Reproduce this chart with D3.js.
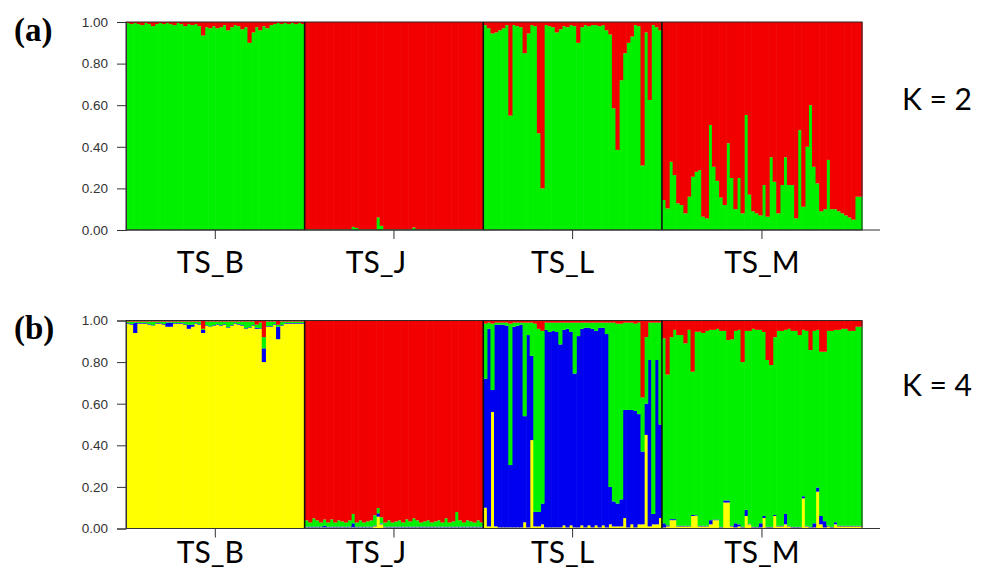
<!DOCTYPE html>
<html>
<head>
<meta charset="utf-8">
<script src="https://cdn.jsdelivr.net/npm/d3@7"></script>
<style>
  html, body { margin: 0; padding: 0; background: #fff; }
  svg { display: block; }
</style>
</head>
<body>
<svg id="chart" width="988" height="572"></svg>
<script>
// ---------------- DATA ----------------
const groups = ["TS_B", "TS_J", "TS_L", "TS_M"];
const groupSizes = [50, 50, 50, 56];
const yTicks = [0, 0.2, 0.4, 0.6, 0.8, 1.0];
const panelLabels = ["(a)", "(b)"];
const kLabels = ["K = 2", "K = 4"];

// K = 2 : proportion of the green cluster (red = remainder)
const k2Green_B = [0.995,0.99,0.995,0.99,0.985,0.995,0.99,0.98,0.99,0.995,
  0.99,0.995,0.99,0.985,0.995,0.99,0.98,0.99,0.985,0.99,
  0.98,0.935,0.975,0.97,0.98,0.97,0.975,0.985,0.96,0.975,
  0.985,0.98,0.965,0.975,0.90,0.95,0.975,0.96,0.98,0.97,
  0.985,0.99,0.995,0.99,0.995,0.99,0.995,0.99,0.995,0.99];
const k2Green_J = [0.003,0.003,0.003,0.003,0.003,0.003,0.003,0.003,0.003,0.003,
  0.003,0.003,0.003,0.015,0.01,0.003,0.003,0.003,0.003,0.003,
  0.06,0.02,0.003,0.003,0.003,0.003,0.003,0.003,0.003,0.003,
  0.012,0.003,0.003,0.003,0.003,0.003,0.003,0.003,0.003,0.003,
  0.003,0.003,0.003,0.003,0.003,0.003,0.003,0.003,0.003,0.003];
const k2Green_L = [0.985,0.97,0.945,0.95,0.96,0.97,0.985,0.55,0.985,0.98,
  0.975,0.85,0.945,0.985,0.98,0.465,0.20,0.985,0.98,0.975,
  0.95,0.965,0.98,0.975,0.985,0.98,0.90,0.975,0.985,0.98,
  0.985,0.985,0.98,0.985,0.96,0.94,0.585,0.385,0.72,0.85,
  0.90,0.93,0.985,0.98,0.31,0.95,0.625,0.985,0.975,0.96];
const k2Green_M = [0.144,0.104,0.328,0.264,0.128,0.12,0.08,0.16,0.256,0.28,
  0.288,0.064,0.056,0.505,0.304,0.236,0.156,0.12,0.417,0.25,
  0.10,0.25,0.08,0.553,0.17,0.09,0.08,0.07,0.216,0.064,
  0.35,0.232,0.08,0.216,0.35,0.216,0.216,0.056,0.48,0.112,
  0.40,0.60,0.304,0.224,0.09,0.10,0.337,0.10,0.10,0.09,
  0.08,0.07,0.06,0.05,0.16,0.16];

// K = 4 : yellow, blue, red proportions (green = remainder)
const k4Yellow_B = [0.985,0.98,0.94,0.985,0.985,0.985,0.98,0.975,0.985,0.985,
  0.98,0.97,0.97,0.985,0.985,0.985,0.98,0.96,0.97,0.985,
  0.98,0.94,0.975,0.97,0.975,0.98,0.975,0.98,0.965,0.975,
  0.985,0.98,0.975,0.96,0.965,0.975,0.96,0.96,0.80,0.97,
  0.97,0.98,0.91,0.975,0.985,0.985,0.985,0.985,0.985,0.985];
const k4Blue_B = [0.003,0.003,0.05,0.003,0.003,0.003,0.003,0.002,0.003,0.003,
  0.003,0.02,0.02,0.003,0.003,0.003,0.003,0.02,0.01,0.003,
  0.003,0.015,0.003,0.002,0.003,0.003,0.003,0.003,0.003,0.003,
  0.003,0.003,0.003,0.003,0.003,0.003,0.005,0.003,0.066,0.003,
  0.003,0.003,0.06,0.003,0.003,0.003,0.003,0.003,0.003,0.003];
const k4Red_B = [0.005,0.005,0.005,0.005,0.005,0.005,0.005,0.005,0.005,0.005,
  0.005,0.005,0.005,0.005,0.005,0.005,0.005,0.005,0.005,0.005,
  0.005,0.04,0.005,0.005,0.005,0.005,0.005,0.005,0.005,0.005,
  0.005,0.005,0.005,0.005,0.005,0.005,0.02,0.01,0.08,0.005,
  0.005,0.005,0.02,0.005,0.005,0.005,0.005,0.005,0.005,0.005];

const k4Yellow_J = [0.005,0.005,0.005,0.005,0.005,0.005,0.005,0.005,0.005,0.005,
  0.005,0.005,0.005,0.005,0.005,0.005,0.005,0.005,0.005,0.01,
  0.057,0.02,0.005,0.005,0.005,0.005,0.005,0.005,0.005,0.005,
  0.005,0.005,0.005,0.005,0.005,0.005,0.005,0.005,0.005,0.005,
  0.005,0.005,0.005,0.005,0.005,0.005,0.005,0.005,0.005,0.005];
const k4Blue_J = [0.004,0.004,0.004,0.004,0.004,0.008,0.004,0.004,0.004,0.004,
  0.004,0.004,0.004,0.02,0.004,0.004,0.004,0.004,0.004,0.004,
  0.016,0.004,0.004,0.004,0.004,0.004,0.004,0.004,0.004,0.004,
  0.004,0.004,0.004,0.004,0.004,0.004,0.004,0.004,0.004,0.004,
  0.004,0.004,0.004,0.004,0.004,0.004,0.004,0.004,0.004,0.004];
const k4Red_J = [0.961,0.971,0.951,0.961,0.971,0.957,0.971,0.956,0.971,0.961,
  0.966,0.971,0.961,0.930,0.971,0.961,0.971,0.966,0.961,0.936,
  0.902,0.946,0.971,0.961,0.971,0.966,0.961,0.971,0.956,0.966,
  0.951,0.961,0.971,0.966,0.961,0.971,0.966,0.961,0.971,0.951,
  0.971,0.966,0.921,0.961,0.971,0.961,0.966,0.971,0.961,0.971];

const k4Yellow_L = [0.10,0.01,0.56,0.01,0.005,0.005,0.005,0.005,0.005,0.005,
  0.005,0.03,0.005,0.425,0.01,0.01,0.02,0.005,0.005,0.005,
  0.005,0.005,0.015,0.005,0.015,0.005,0.005,0.015,0.005,0.015,
  0.005,0.015,0.005,0.015,0.005,0.02,0.01,0.01,0.01,0.05,
  0.005,0.02,0.005,0.02,0.02,0.45,0.01,0.02,0.02,0.05];
const k4Blue_L = [0.62,0.95,0.106,0.97,0.975,0.975,0.97,0.30,0.965,0.97,
  0.975,0.51,0.925,0.405,0.07,0.07,0.10,0.95,0.94,0.945,
  0.94,0.88,0.94,0.955,0.93,0.74,0.92,0.945,0.96,0.95,
  0.955,0.935,0.96,0.95,0.93,0.18,0.12,0.11,0.13,0.52,
  0.565,0.55,0.56,0.53,0.35,0.15,0.80,0.05,0.79,0.45];
const k4Red_L = [0.015,0.01,0.015,0.01,0.01,0.01,0.01,0.015,0.01,0.01,
  0.01,0.01,0.01,0.01,0.015,0.04,0.05,0.01,0.01,0.01,
  0.01,0.01,0.01,0.01,0.01,0.01,0.01,0.01,0.01,0.01,
  0.01,0.01,0.01,0.01,0.01,0.01,0.01,0.015,0.015,0.01,
  0.01,0.01,0.015,0.01,0.37,0.08,0.01,0.01,0.01,0.01];

const k4Yellow_M = [0.005,0.01,0.04,0.04,0.01,0.01,0.01,0.01,0.06,0.06,
  0.01,0.01,0.01,0.02,0.04,0.04,0.005,0.125,0.125,0.01,
  0.005,0.01,0.005,0.06,0.02,0.005,0.005,0.005,0.05,0.005,
  0.005,0.06,0.01,0.01,0.02,0.01,0.005,0.005,0.005,0.145,
  0.01,0.005,0.005,0.177,0.02,0.005,0.01,0.005,0.02,0.01,
  0.01,0.01,0.01,0.01,0.01,0.01];
const k4Blue_M = [0.02,0.005,0.005,0.005,0.003,0.003,0.003,0.003,0.005,0.003,
  0.003,0.003,0.003,0.02,0.003,0.003,0.003,0.01,0.01,0.003,
  0.02,0.01,0.003,0.03,0.003,0.003,0.003,0.02,0.01,0.003,
  0.003,0.005,0.003,0.003,0.05,0.003,0.003,0.003,0.003,0.01,
  0.003,0.003,0.02,0.02,0.04,0.03,0.003,0.003,0.01,0.003,
  0.003,0.003,0.003,0.003,0.003,0.003];
const k4Red_M = [0.086,0.26,0.08,0.045,0.07,0.07,0.11,0.045,0.246,0.054,
  0.054,0.06,0.05,0.045,0.045,0.04,0.05,0.05,0.094,0.09,
  0.05,0.045,0.20,0.05,0.05,0.04,0.045,0.045,0.055,0.19,
  0.214,0.08,0.05,0.05,0.045,0.04,0.05,0.05,0.07,0.045,
  0.05,0.142,0.05,0.045,0.15,0.15,0.05,0.05,0.045,0.045,
  0.04,0.04,0.05,0.05,0.03,0.03];

// ---------------- BUILD ROWS ----------------
const k2Green = [].concat(k2Green_B, k2Green_J, k2Green_L, k2Green_M);
const k4Yellow = [].concat(k4Yellow_B, k4Yellow_J, k4Yellow_L, k4Yellow_M);
const k4Blue = [].concat(k4Blue_B, k4Blue_J, k4Blue_L, k4Blue_M);
const k4Red = [].concat(k4Red_B, k4Red_J, k4Red_L, k4Red_M);
const N = k2Green.length;

const rowsK2 = k2Green.map((g, i) => ({ i, green: g, red: Math.max(0, 1 - g) }));
const rowsK4 = k4Yellow.map((yv, i) => ({
  i, yellow: yv, blue: k4Blue[i],
  green: Math.max(0, 1 - yv - k4Blue[i] - k4Red[i]), red: k4Red[i]
}));

const colors = { green: "#00f000", red: "#f20000", yellow: "#ffff00", blue: "#0000f0" };

// ---------------- LAYOUT ----------------
const svg = d3.select("#chart");
const x = d3.scaleLinear().domain([0, N]).range([126, 862]);
const axisEnd = 880;
const labelNudge = [-5, -18, -10, 0];   // horizontal shift of category labels (px)

const panels = [
  { rows: rowsK2, keys: ["green", "red"], top: 22, bottom: 230, labelY: 41, kY: 110, catY: 273 },
  { rows: rowsK4, keys: ["yellow", "blue", "green", "red"], top: 320.5, bottom: 528.5, labelY: 339, kY: 396, catY: 563 }
];

// group boundaries / centres
const bounds = [0];
groupSizes.forEach(s => bounds.push(bounds[bounds.length - 1] + s));
const centers = groups.map((g, gi) => (bounds[gi] + bounds[gi + 1]) / 2);

panels.forEach((p, pi) => {
  const y = d3.scaleLinear().domain([0, 1]).range([p.bottom, p.top]);
  const g = svg.append("g");

  const series = d3.stack().keys(p.keys)(p.rows);
  const bw = x(1) - x(0);
  g.selectAll("g.layer").data(series).join("g")
    .attr("fill", d => colors[d.key])
    .selectAll("rect").data(d => d).join("rect")
      .attr("x", d => x(d.data.i))
      .attr("width", bw + 0.6)
      .attr("y", d => y(Math.min(1, d[1])))
      .attr("height", d => Math.max(0, y(d[0]) - y(Math.min(1, d[1]))));

  // frame around plot
  g.append("rect")
    .attr("x", x(0)).attr("y", p.top)
    .attr("width", x(N) - x(0)).attr("height", p.bottom - p.top)
    .attr("fill", "none").attr("stroke", "#2a2a2a").attr("stroke-width", 1);

  // group separators
  g.selectAll("line.sep").data(bounds.slice(1, -1)).join("line")
    .attr("x1", d => x(d)).attr("x2", d => x(d))
    .attr("y1", p.top).attr("y2", p.bottom)
    .attr("stroke", "#111").attr("stroke-width", 1.6);

  // y axis
  const yAxis = g.append("g").attr("transform", `translate(${x(0)},0)`)
    .call(d3.axisLeft(y).tickValues(yTicks).tickFormat(d3.format(".2f")).tickSize(9).tickPadding(9));
  yAxis.select(".domain").attr("stroke", "#333");
  yAxis.selectAll(".tick line").attr("stroke", "#333");
  yAxis.selectAll(".tick text").attr("fill", "#333")
    .style("font-family", "'Liberation Sans', Arial, sans-serif").style("font-size", "13.5px");

  // x axis line + ticks
  g.append("line").attr("x1", x(0)).attr("x2", axisEnd)
    .attr("y1", p.bottom).attr("y2", p.bottom).attr("stroke", "#333").attr("stroke-width", 1);
  g.selectAll("line.xt").data(centers).join("line")
    .attr("x1", d => x(d)).attr("x2", d => x(d))
    .attr("y1", p.bottom).attr("y2", p.bottom + 9)
    .attr("stroke", "#333").attr("stroke-width", 1);

  // category labels
  g.selectAll("text.cat").data(groups).join("text")
    .attr("x", (d, i) => x(centers[i]) + labelNudge[i]).attr("y", p.catY)
    .attr("text-anchor", "middle")
    .style("font-family", "Lato, 'Open Sans', sans-serif").style("font-size", "30px")
    .attr("fill", "#000").text(d => d);

  // panel label
  g.append("text").attr("x", 14).attr("y", p.labelY)
    .style("font-family", "'Liberation Serif', 'Times New Roman', serif")
    .style("font-weight", "bold").style("font-size", "33px").attr("fill", "#000")
    .text(panelLabels[pi]);

  // K label
  g.append("text").attr("x", 937).attr("y", p.kY).attr("text-anchor", "middle")
    .style("font-family", "Lato, 'Open Sans', sans-serif").style("font-size", "30px")
    .attr("fill", "#000").text(kLabels[pi]);
});
</script>
</body>
</html>
